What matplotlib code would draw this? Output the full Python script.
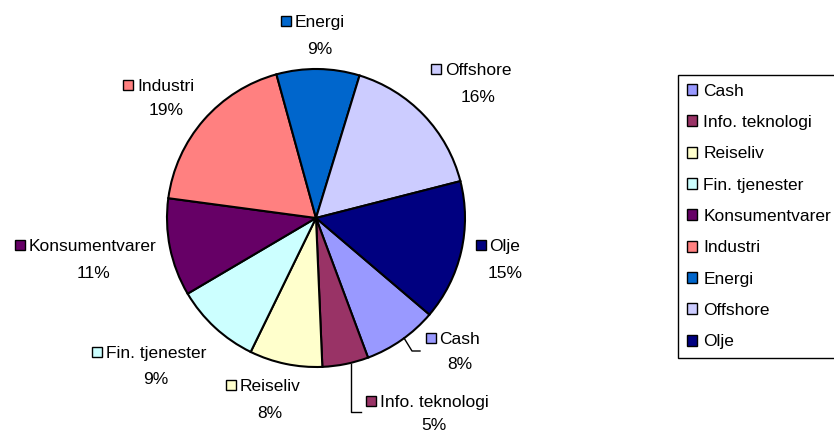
import matplotlib
matplotlib.use("Agg")
import matplotlib.pyplot as plt
from matplotlib.patches import Patch, Rectangle

plt.rcParams['font.family'] = ['Liberation Sans', 'DejaVu Sans']

# ---- data ----
categories = ['Cash', 'Info. teknologi', 'Reiseliv', 'Fin. tjenester', 'Konsumentvarer',
              'Industri', 'Energi', 'Offshore', 'Olje']
shares = [8.1, 5.0, 7.9, 9.3, 10.6, 18.6, 9.0, 16.3, 15.2]
colors = ['#9999FF', '#993366', '#FFFFCC', '#CCFFFF', '#660066',
          '#FF8080', '#0066CC', '#CCCCFF', '#000080']

# ---- layout (pixels) ----
W, H, DPI = 834, 432, 100
CX, CY, R = 316, 218, 149
FS = 12.5
# label text centre x, name baseline y, percent baseline y (pixels from top)
label_pos = [(460, 344, 369), (434, 407, 430), (270, 391, 418), (156, 358, 384),
             (93, 251, 278), (166, 91, 115), (320, 27, 54), (478, 75, 102),
             (505, 251, 278)]
leaders = {0: [(404, 338), (412, 351), (420, 351)],
           1: [(351, 364), (351, 412), (361, 412)]}


def px(x, y):
    return ((x - CX) / R, (CY - y) / R)


fig = plt.figure(figsize=(W / DPI, H / DPI), dpi=DPI)
ax = fig.add_axes([0, 0, 1, 1])
ax.pie(shares, colors=colors, startangle=-40.4, counterclock=False, radius=1,
       center=(0, 0), wedgeprops=dict(edgecolor='black', linewidth=1.5))
ax.set_xlim(-CX / R, (W - CX) / R)
ax.set_ylim((CY - H) / R, CY / R)
ax.set_aspect('auto')
ax.axis('off')

name_texts = []
for i, (cat, s) in enumerate(zip(categories, shares)):
    xc, yb1, yb2 = label_pos[i]
    t = ax.text(*px(xc, yb1), cat, ha='center', va='baseline', fontsize=FS)
    ax.text(*px(xc, yb2), f"{round(s)}%", ha='center', va='baseline', fontsize=FS)
    name_texts.append(t)

for i, pts in leaders.items():
    xs, ys = zip(*[px(x, y) for x, y in pts])
    ax.plot(xs, ys, color='black', lw=1.0)

fig.canvas.draw()
inv = ax.transData.inverted()
ksz = 10
for i, t in enumerate(name_texts):
    bb = t.get_window_extent()
    yb1 = label_pos[i][1]
    x1 = bb.x0 - 4
    x0 = x1 - ksz
    yc = (H - yb1) + 6
    (dx0, dy0) = inv.transform((x0, yc - ksz / 2))
    (dx1, dy1) = inv.transform((x1, yc + ksz / 2))
    ax.add_patch(Rectangle((dx0, dy0), dx1 - dx0, dy1 - dy0, facecolor=colors[i],
                           edgecolor='black', linewidth=1.0, clip_on=False))

handles = [Patch(facecolor=c, edgecolor='black', linewidth=1.0) for c in colors]
leg = fig.legend(handles, categories, loc='upper left',
                 bbox_to_anchor=(678 / W, 1 - 75 / H), bbox_transform=fig.transFigure,
                 frameon=True, fancybox=False, edgecolor='black', framealpha=1,
                 borderpad=0.5, labelspacing=0.94, handlelength=0.6,
                 handleheight=0.6, handletextpad=0.35, borderaxespad=0, fontsize=FS)
leg.get_frame().set_linewidth(1.0)

fig.savefig('out.png', dpi=DPI)
